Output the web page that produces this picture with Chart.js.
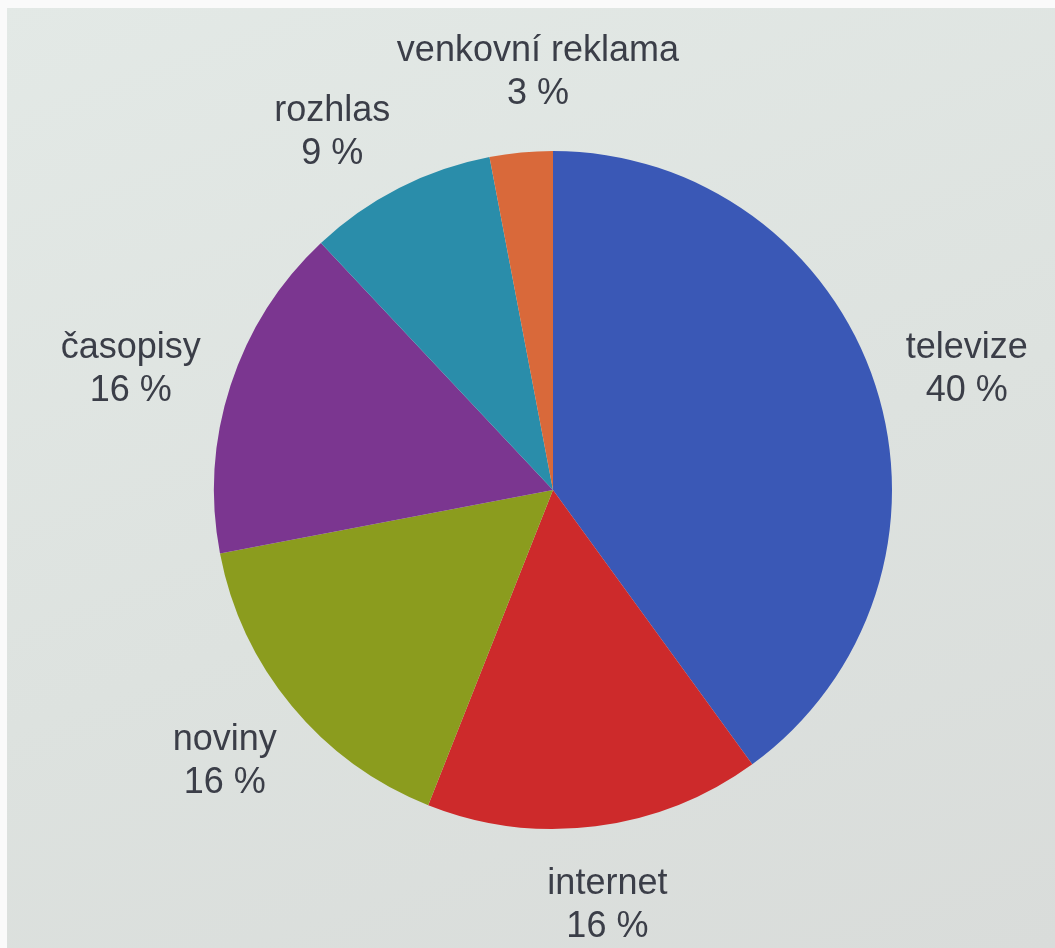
<!DOCTYPE html>
<html>
<head>
<meta charset="utf-8">
<script src="https://cdn.jsdelivr.net/npm/chart.js@4/dist/chart.umd.min.js"></script>
<style>
  html, body { margin: 0; padding: 0; }
  #wrap {
    position: relative; width: 1055px; height: 948px;
    background: linear-gradient(160deg, #e3e9e6 0%, #dde2df 55%, #d9dcda 100%);
  }
  #wrap:before { content: ''; position: absolute; left: 0; top: 0; width: 1055px; height: 8px; background: #fafafa; }
  #wrap:after { content: ''; position: absolute; left: 0; top: 0; width: 7px; height: 948px; background: #fafafa; }
  canvas { position: absolute; left: 0; top: 0; }
</style>
</head>
<body>
<div id="wrap"><canvas id="myChart" width="1055" height="948"></canvas></div>
<script>
// data
const categories = ['televize', 'internet', 'noviny', 'časopisy', 'rozhlas', 'venkovní reklama']
const shares = [40, 16, 16, 16, 9, 3]
const colors = ['#3a58b6', '#cd2a2b', '#8b9c1e', '#7b3690', '#2a8daa', '#d9693a']

// labels outside the pie: name + percentage, pushed apart when they collide
const outsideLabels = {
    id: 'outsideLabels',
    afterDatasetsDraw(chart) {
        let ctx = chart.ctx
        let meta = chart.getDatasetMeta(0)
        ctx.save()
        ctx.font = '36px "Liberation Sans", Arial, sans-serif'
        ctx.fillStyle = '#3b3e48'
        ctx.textAlign = 'center'
        ctx.textBaseline = 'middle'

        let h = 88
        let place = (arc, ang, w) => {
            let ux = Math.cos(ang)
            let uy = Math.sin(ang)
            let d = arc.outerRadius + 35
            let x = arc.x + ux * d + ux * w / 2
            let y = arc.y + uy * d + uy * h / 2 + 12 * (1 - Math.abs(uy))
            return { x: x, y: y, w: w }
        }
        let overlap = (a, b) => {
            return Math.abs(a.x - b.x) < (a.w + b.w) / 2 + 4 && Math.abs(a.y - b.y) < h
        }

        let angles = meta.data.map((arc) => (arc.startAngle + arc.endAngle) / 2)
        let widths = categories.map((c) => Math.max(ctx.measureText(c).width, ctx.measureText('00 %').width))
        let n = angles.length
        for (let k = 0; k < 200; k++) {
            let moved = false
            for (let i = 0; i < n; i++) {
                let j = (i + 1) % n
                let a = place(meta.data[i], angles[i], widths[i])
                let b = place(meta.data[j], angles[j], widths[j])
                if (overlap(a, b)) {
                    angles[i] -= 0.005
                    angles[j] += 0.005
                    moved = true
                }
            }
            if (!moved) break
        }

        meta.data.forEach((arc, i) => {
            let p = place(arc, angles[i], widths[i])
            ctx.fillText(categories[i], p.x, p.y - 21)
            ctx.fillText(shares[i] + ' %', p.x, p.y + 22)
        })
        ctx.restore()
    }
}

const ctx = document.getElementById('myChart')

new Chart(ctx, {
    type: 'pie',
    data: {
        labels: categories,
        datasets: [{
            data: shares,
            backgroundColor: colors,
            borderWidth: 0
        }]
    },
    options: {
        responsive: false,
        animation: false,
        layout: {
            padding: { top: 151, bottom: 119, left: 214, right: 163 }
        },
        plugins: {
            legend: { display: false },
            tooltip: { enabled: false }
        }
    },
    plugins: [outsideLabels]
})
</script>
</body>
</html>
